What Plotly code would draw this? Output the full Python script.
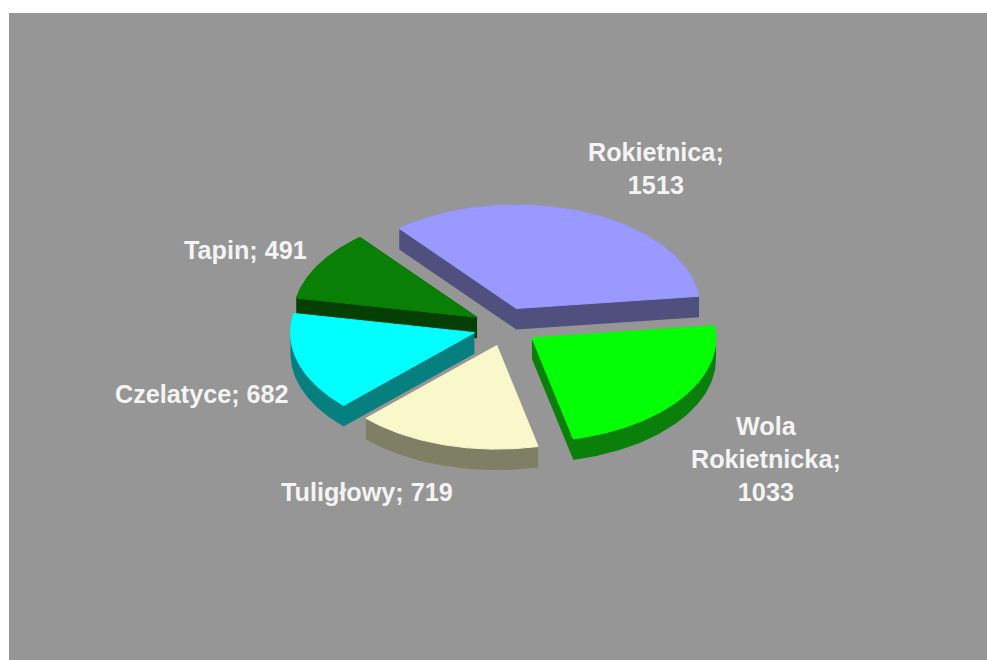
import numpy as np
import plotly.graph_objects as go

categories = ["Rokietnica", "Wola Rokietnicka", "Tuligłowy", "Czelatyce", "Tapin"]
values = [1513, 1033, 719, 682, 491]
label_text = ["Rokietnica;<br>1513", "Wola<br>Rokietnicka;<br>1033", "Tuligłowy; 719", "Czelatyce; 682", "Tapin; 491"]
label_x = [656, 766, 366.5, 202, 245]
label_y = [168, 459, 492, 394, 250]
top_colors = ["#9999FF", "#05FF05", "#F8F8CB", "#00FFFF", "#0A7F06"]
side_colors = ["#50507F", "#0A7F0A", "#7F7F66", "#067F7F", "#053F03"]
draw_order = [0, 4, 3, 1, 2]
nudge_x = [-1, 0, 1, 1, 0.5]
nudge_y = [-1, 0.5, 1, 0.5, 0]

W, H = 987, 660
CX, CY, R, K, PULL, DEPTH, START = 505, 326.7, 184, 0.563, 33, 21, 129.5


def hull(pts):
    pts = sorted(set(map(tuple, np.round(pts, 3))))
    def half(seq):
        out = []
        for p in seq:
            while len(out) > 1 and ((out[-1][0]-out[-2][0])*(p[1]-out[-2][1]) - (out[-1][1]-out[-2][1])*(p[0]-out[-2][0])) <= 0:
                out.pop()
            out.append(p)
        return out[:-1]
    return np.array(half(pts) + half(pts[::-1]))


fractions = np.array(values) / sum(values) * 360
ends = START - np.cumsum(fractions)
starts = ends + fractions

fig = go.Figure()
for i in draw_order:
    mid = np.radians((starts[i] + ends[i]) / 2)
    ax = CX + PULL * np.cos(mid) + nudge_x[i]
    ay = CY - K * PULL * np.sin(mid) + nudge_y[i]
    th = np.radians(np.linspace(starts[i], ends[i], 90))
    top = np.vstack([[ax, ay], np.column_stack([ax + R*np.cos(th), ay - K*R*np.sin(th)])])
    low = top + [0, DEPTH]
    wall = hull(np.vstack([top, low]))
    for poly, col, lw in ((wall, side_colors[i], 0), (top, top_colors[i], 1)):
        fig.add_trace(go.Scatter(
            x=np.append(poly[:, 0], poly[0, 0]), y=np.append(poly[:, 1], poly[0, 1]),
            mode="lines", fill="toself", fillcolor=col, line=dict(color=col, width=lw),
            hoverinfo="skip", name=categories[i], showlegend=False))

for t, x, y in zip(label_text, label_x, label_y):
    fig.add_annotation(x=x, y=y, text=t, showarrow=False, align="center",
                       font=dict(family="Liberation Sans", size=25.2, color="#F4F4F4", weight="bold"))

fig.update_layout(
    width=W, height=H, margin=dict(l=9, t=13, r=0, b=0, pad=0),
    paper_bgcolor="white", plot_bgcolor="#969696", showlegend=False,
    xaxis=dict(range=[9, W], visible=False, fixedrange=True),
    yaxis=dict(range=[H, 13], visible=False, fixedrange=True),
)
fig.write_html("out.html", config=dict(displayModeBar=False),
               post_script="document.body.style.margin='0';")
